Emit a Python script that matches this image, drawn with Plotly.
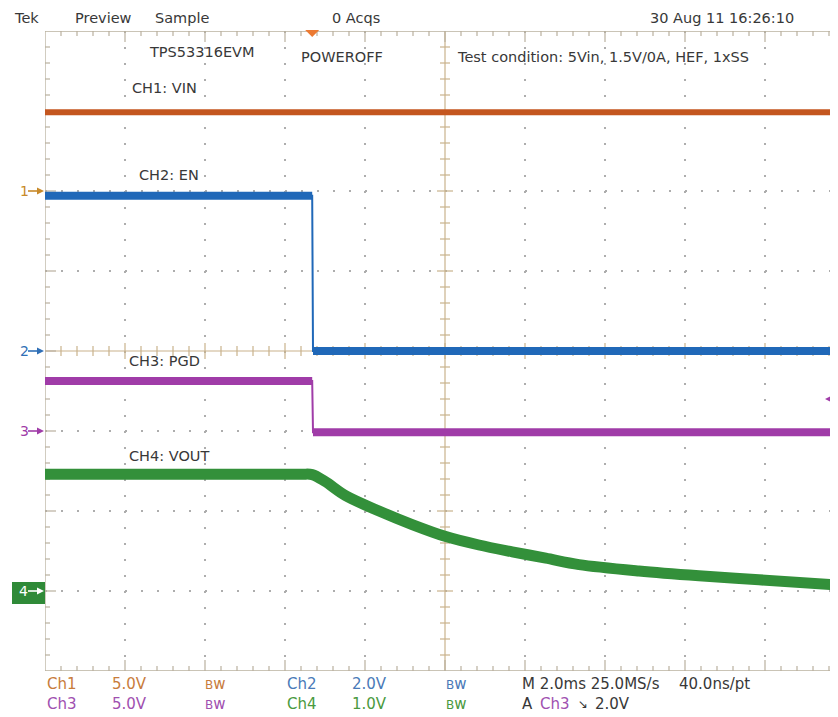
import plotly.graph_objects as go

# ---------------- data ----------------
CH_NAMES = ["CH1: VIN", "CH2: EN", "CH3: PGD", "CH4: VOUT"]
CH_VOLTS_PER_DIV = [5.0, 2.0, 5.0, 1.0]
CH_OFFSET_DIV = [2.0, 0.0, -1.0, -3.0]
TIME_PER_DIV_MS = 2.0
TRIGGER_MS = -3.32
TRIGGER_LEVEL_V = 2.0

# time in ms relative to screen centre, values in volts
vin_t = [-10.0, 10.0]
vin_v = [4.92, 4.92]

en_t = [-10.0, -3.32, -3.30, 10.0]
en_v = [3.88, 3.88, 0.0, 0.0]

pgd_t = [-10.0, -3.32, -3.30, 10.0]
pgd_v = [3.12, 3.12, -0.08, -0.08]

vout_t = [-10.0, -3.6, -3.32, -3.0, -2.48, -1.65, -0.82, 0.02, 0.85, 1.68,
          2.52, 3.35, 4.85, 6.35, 7.85, 10.0]
vout_v = [1.46, 1.46, 1.455, 1.37, 1.19, 1.0, 0.83, 0.68, 0.575, 0.49,
          0.41, 0.33, 0.25, 0.19, 0.14, 0.07]

HEADER = ["Tek", "Preview", "Sample", "0 Acqs", "30 Aug 11 16:26:10"]
NOTES = ["TPS53316EVM", "POWEROFF", "Test condition: 5Vin, 1.5V/0A, HEF, 1xSS"]
TIMEBASE = "M 2.0ms 25.0MS/s"
RESOLUTION = "40.0ns/pt"

# ---------------- layout geometry (page pixels) ----------------
PAGE_W, PAGE_H = 838, 717
BODY = 8                      # default body margin of the html page
L, T = 45, 31                 # graticule top-left on the page
PX_DIV = 80
PLOT_W = PAGE_W - L
PLOT_H = 8 * PX_DIV
XMIN = -5 * TIME_PER_DIV_MS
XMAX = XMIN + PLOT_W / PX_DIV * TIME_PER_DIV_MS
PX_MS = PX_DIV / TIME_PER_DIV_MS


def X(px):
    return XMIN + (px - L) / PX_MS


def Y(py):
    return 4 - (py - T) / PX_DIV


def PX(px):
    return (px - L) / PLOT_W


def PY(py):
    return 1 - (py - T) / PLOT_H


def to_div(vals, ch):
    return [CH_OFFSET_DIV[ch] + v / CH_VOLTS_PER_DIV[ch] for v in vals]


def split_edges(t, y):
    """Break the line at vertical edges so that flat parts can be drawn thick."""
    ot, oy = [t[0]], [y[0]]
    for i in range(1, len(t)):
        if abs(t[i] - t[i - 1]) < 0.05 and abs(y[i] - y[i - 1]) > 0.2:
            ot.append(None)
            oy.append(None)
        ot.append(t[i])
        oy.append(y[i])
    return ot, oy


COL = ["#c4561f", "#2068b8", "#a03ca8", "#33903a"]
FONT = "DejaVu Sans, Liberation Sans, sans-serif"
TXT = "#383838"

fig = go.Figure()


def add_line(x, y, color, width, shape="linear"):
    fig.add_trace(go.Scatter(x=x, y=y, mode="lines", connectgaps=False,
                             line=dict(color=color, width=width, shape=shape,
                                       smoothing=0.9 if shape == "spline" else None),
                             hoverinfo="skip", showlegend=False))


# step channels: thin full waveform + thick flat segments
for ch, (t, v, wid) in enumerate([(vin_t, vin_v, 6), (en_t, en_v, 8), (pgd_t, pgd_v, 8)]):
    yd = to_div(v, ch)
    add_line(t, yd, COL[ch], 2)
    st, sy = split_edges(t, yd)
    add_line(st, sy, COL[ch], wid)

# VOUT: smooth discharge curve
add_line(vout_t, to_div(vout_v, 3), COL[3], 11, "spline")

shapes = []
GRID = "#adadad"
TAN = "#c9b28c"
BORDER = "#b9b09e"


def seg(x0, y0, x1, y1, color, width=1, dash=None):
    d = dict(type="line", xref="x", yref="y", x0=x0, y0=y0, x1=x1, y1=y1,
             layer="below", line=dict(color=color, width=width))
    if dash:
        d["line"]["dash"] = dash
    shapes.append(d)


# dotted graticule
for k in range(1, 10):
    if k == 5:
        continue
    px = L + k * PX_DIV
    seg(X(px), 4, X(px), -4, GRID, 2, "2px,14px")
for k in range(1, 8):
    if k == 4:
        continue
    py = T + k * PX_DIV
    seg(XMIN, Y(py), XMAX, Y(py), GRID, 2, "2px,14px")

# centre cross with ticks
cx, cy = L + 5 * PX_DIV, T + 4 * PX_DIV
seg(X(cx), 4, X(cx), -4, TAN, 1.2)
seg(XMIN, Y(cy), XMAX, Y(cy), TAN, 1.2)
for i in range(1, 40):
    py = T + i * 16
    ln = 8 if i % 5 == 0 else 5
    seg(X(cx - ln), Y(py), X(cx + ln), Y(py), TAN, 1.2)
for i in range(1, 50):
    px = L + i * 16
    if px >= PAGE_W:
        break
    ln = 8 if i % 5 == 0 else 5
    seg(X(px), Y(cy - ln), X(px), Y(cy + ln), TAN, 1.2)

# border with ticks
bot = T + PLOT_H
seg(XMIN, 4, XMAX, 4, BORDER, 1.3)
seg(XMIN, -4, XMAX, -4, BORDER, 1.3)
seg(XMIN, 4, XMIN, -4, BORDER, 1.3)
for i in range(1, 50):
    px = L + i * 16
    if px >= PAGE_W:
        break
    ln = 11 if i % 5 == 0 else 5
    seg(X(px), Y(T), X(px), Y(T + ln), BORDER, 1.2)
    seg(X(px), Y(bot), X(px), Y(bot - ln), BORDER, 1.2)
for i in range(1, 40):
    py = T + i * 16
    ln = 11 if i % 5 == 0 else 5
    seg(XMIN, Y(py), X(L + ln), Y(py), BORDER, 1.2)


def ppath(points, fill):
    p = "M " + " L ".join(f"{PX(a)} {PY(b)}" for a, b in points) + " Z"
    shapes.append(dict(type="path", xref="paper", yref="paper", path=p,
                       fillcolor=fill, line=dict(width=0)))


def pline(x0, y0, x1, y1, color, width=1.6):
    shapes.append(dict(type="line", xref="paper", yref="paper",
                       x0=PX(x0), y0=PY(y0), x1=PX(x1), y1=PY(y1),
                       line=dict(color=color, width=width)))


# trigger position marker at top
tpx = L + (TRIGGER_MS - XMIN) * PX_MS
ppath([(tpx - 7, T - 1), (tpx + 7, T - 1), (tpx, T + 6)], "#ec7a32")

# channel 4 marker box
shapes.append(dict(type="rect", xref="paper", yref="paper",
                   x0=PX(12), x1=PX(45), y0=PY(604), y1=PY(582),
                   fillcolor="#2f8a38", line=dict(width=0)))

ann = []


def text(px, py, s, color=TXT, size=15, anchor="left"):
    ann.append(dict(x=PX(px), y=PY(py), xref="paper", yref="paper", text=s,
                    showarrow=False, xanchor=anchor, yanchor="middle",
                    font=dict(family=FONT, size=size, color=color)))


# header
hdr_x = [12, 73, 153, 330, 648]
for s, px in zip(HEADER, hdr_x):
    text(px, 18, s, size=14.5)
text(147, 52, NOTES[0], size=14.5)
text(299, 57, NOTES[1], size=14.5)
text(455, 57, NOTES[2], size=14.5)

# channel labels
lab_pos = [(130, 88), (137, 175), (127, 361), (127, 456)]
for ch, (px, py) in enumerate(lab_pos):
    text(px, py, CH_NAMES[ch], size=14.5)

# ground markers
MCOL = ["#c88a2a", "#2f6fb6", "#a03ca8", "#ffffff"]
for ch in range(4):
    py = T + (4 - CH_OFFSET_DIV[ch]) * PX_DIV
    text(18 if ch < 3 else 17, py, f"{ch + 1}", MCOL[ch], 14)
    pline(28, py, 40, py, MCOL[ch])
    ppath([(37, py - 3.5), (44, py), (37, py + 3.5)], MCOL[ch])

# trigger level arrow on right
trig_py = T + (4 - (CH_OFFSET_DIV[2] + TRIGGER_LEVEL_V / CH_VOLTS_PER_DIV[2])) * PX_DIV
pline(829, trig_py, 838, trig_py, COL[2])
ppath([(832, trig_py - 3.5), (825, trig_py), (832, trig_py + 3.5)], COL[2])

# footer
FC = ["#c87c3c", "#4a7ab8", "#a050b0", "#4a9a40"]
r1, r2 = 684, 704
bw = "<span style='font-size:12px'>B</span>w"
text(45, r1, "Ch1", FC[0]); text(110, r1, f"{CH_VOLTS_PER_DIV[0]:.1f}V", FC[0]); text(203, r1, bw, FC[0], 15)
text(285, r1, "Ch2", FC[1]); text(350, r1, f"{CH_VOLTS_PER_DIV[1]:.1f}V", FC[1]); text(444, r1, bw, FC[1], 15)
text(45, r2, "Ch3", FC[2]); text(110, r2, f"{CH_VOLTS_PER_DIV[2]:.1f}V", FC[2]); text(203, r2, bw, FC[2], 15)
text(285, r2, "Ch4", FC[3]); text(350, r2, f"{CH_VOLTS_PER_DIV[3]:.1f}V", FC[3]); text(444, r2, bw, FC[3], 15)
text(520, r1, TIMEBASE, TXT)
text(677, r1, RESOLUTION, TXT)
text(520, r2, "A", TXT)
text(538, r2, "Ch3", FC[2])
text(576, r2, "\u2198", TXT, 12)
text(593, r2, f"{TRIGGER_LEVEL_V:.1f}V", TXT)

# the figure starts BODY px inside the page, so shrink it accordingly
fig.update_layout(
    width=PAGE_W - BODY, height=PAGE_H - BODY,
    margin=dict(l=L - BODY, r=0, t=T - BODY, b=PAGE_H - T - PLOT_H, pad=0),
    paper_bgcolor="white", plot_bgcolor="white",
    xaxis=dict(range=[XMIN, XMAX], visible=False, fixedrange=True),
    yaxis=dict(range=[-4, 4], visible=False, fixedrange=True),
    shapes=shapes, annotations=ann, showlegend=False,
)
fig.write_html("out.html")
